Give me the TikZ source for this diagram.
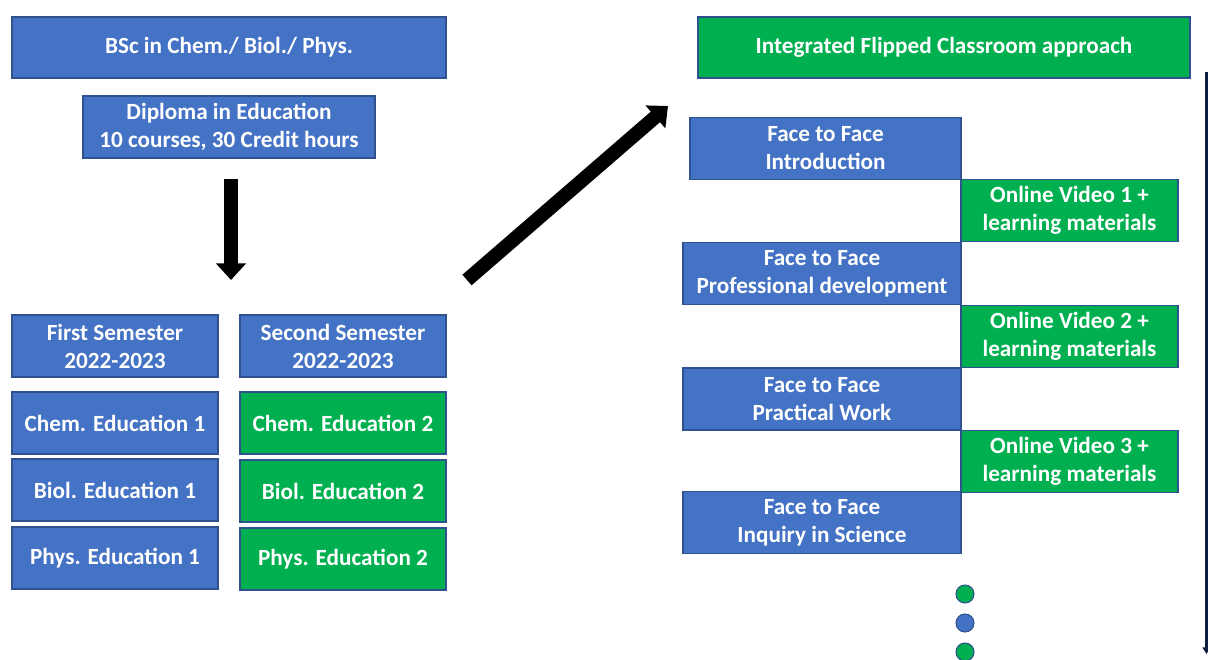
\documentclass[tikz,border=0pt]{standalone}
\usepackage{fontspec}
\setmainfont{Carlito}
\usetikzlibrary{arrows.meta}
\definecolor{cblue}{HTML}{4472C4}
\definecolor{cgreen}{HTML}{00B050}
\definecolor{cbord}{HTML}{2F528F}
\definecolor{cnavy}{HTML}{0F1E40}
\tikzset{
  bx/.style={draw=cbord, line width=0.9pt, text=white, font=\bfseries\fontsize{17.4}{21}\selectfont,
    align=center, inner sep=0pt, minimum height=46.5pt},
  bbox/.style={bx, fill=cblue},
  gbox/.style={bx, fill=cgreen},
  wide/.style={minimum width=325.5pt},
  sem/.style={minimum width=154.5pt},
  ftf/.style={minimum width=208.5pt},
  onl/.style={minimum width=162.75pt},
  bigarrow/.style={draw=black, line width=10.5pt, -{Triangle[width=22pt,length=12.5pt]}},
  dot/.style={circle, draw=cbord, line width=0.8pt, minimum size=13.5pt, inner sep=0pt},
}
\begin{document}
\begin{tikzpicture}[x=0.75pt,y=-0.75pt]
\useasboundingbox (0,0) rectangle (1208,660);
% left column
\node[bbox, wide, minimum height=45.75pt] (bsc) at (229,47.5) {BSc in Chem./ Biol./ Phys.};
\node[bbox, minimum width=219pt] (dip) at (229,127) {Diploma in Education\\10 courses, 30 Credit hours};
\node[bbox, sem] (s1) at (115,346) {First Semester\\2022-2023};
\node[bbox, sem] (s2) at (343,346) {Second Semester\\2022-2023};
\node[bbox, sem] (c1) at (115,423) {Chem. Education 1};
\node[bbox, sem] (b1) at (115,490) {Biol. Education 1};
\node[bbox, sem] (p1) at (115,558) {Phys. Education 1};
\node[gbox, sem] (c2) at (343,423) {Chem. Education 2};
\node[gbox, sem] (b2) at (343,491) {Biol. Education 2};
\node[gbox, sem] (p2) at (343,559) {Phys. Education 2};
% arrows
\coordinate (dA) at (231,179);
\coordinate (dB) at (231,280);
\draw[bigarrow] (dA) -- (dB);
\coordinate (gA) at (467,280);
\coordinate (gB) at (668,106);
\draw[bigarrow] (gA) -- (gB);
% right column
\node[gbox, minimum width=369pt, minimum height=45.75pt] (ifc) at (944,47.5) {Integrated Flipped Classroom approach};
\node[bbox, minimum width=203.25pt] (f1) at (825.5,148.5) {Face to Face\\Introduction};
\node[gbox, onl] (o1) at (1069.5,210.5) {Online Video 1 +\\learning materials};
\node[bbox, ftf] (f2) at (822,273.5) {Face to Face\\Professional development};
\node[gbox, onl] (o2) at (1069.5,336.5) {Online Video 2 +\\learning materials};
\node[bbox, ftf] (f3) at (822,399) {Face to Face\\Practical Work};
\node[gbox, onl] (o3) at (1069.5,461.5) {Online Video 3 +\\learning materials};
\node[bbox, ftf] (f4) at (822,522.5) {Face to Face\\Inquiry in Science};
% dots
\node[dot, fill=cgreen] (d1) at (965,594) {};
\node[dot, fill=cblue] (d2) at (965,623) {};
\node[dot, fill=cgreen] (d3) at (965,652) {};
% timeline
\coordinate (tA) at (1206.5,72);
\coordinate (tB) at (1206.5,654);
\draw[cnavy, line width=1.6pt, -{Triangle[width=6pt,length=5pt]}] (tA) -- (tB);
\end{tikzpicture}
\end{document}
